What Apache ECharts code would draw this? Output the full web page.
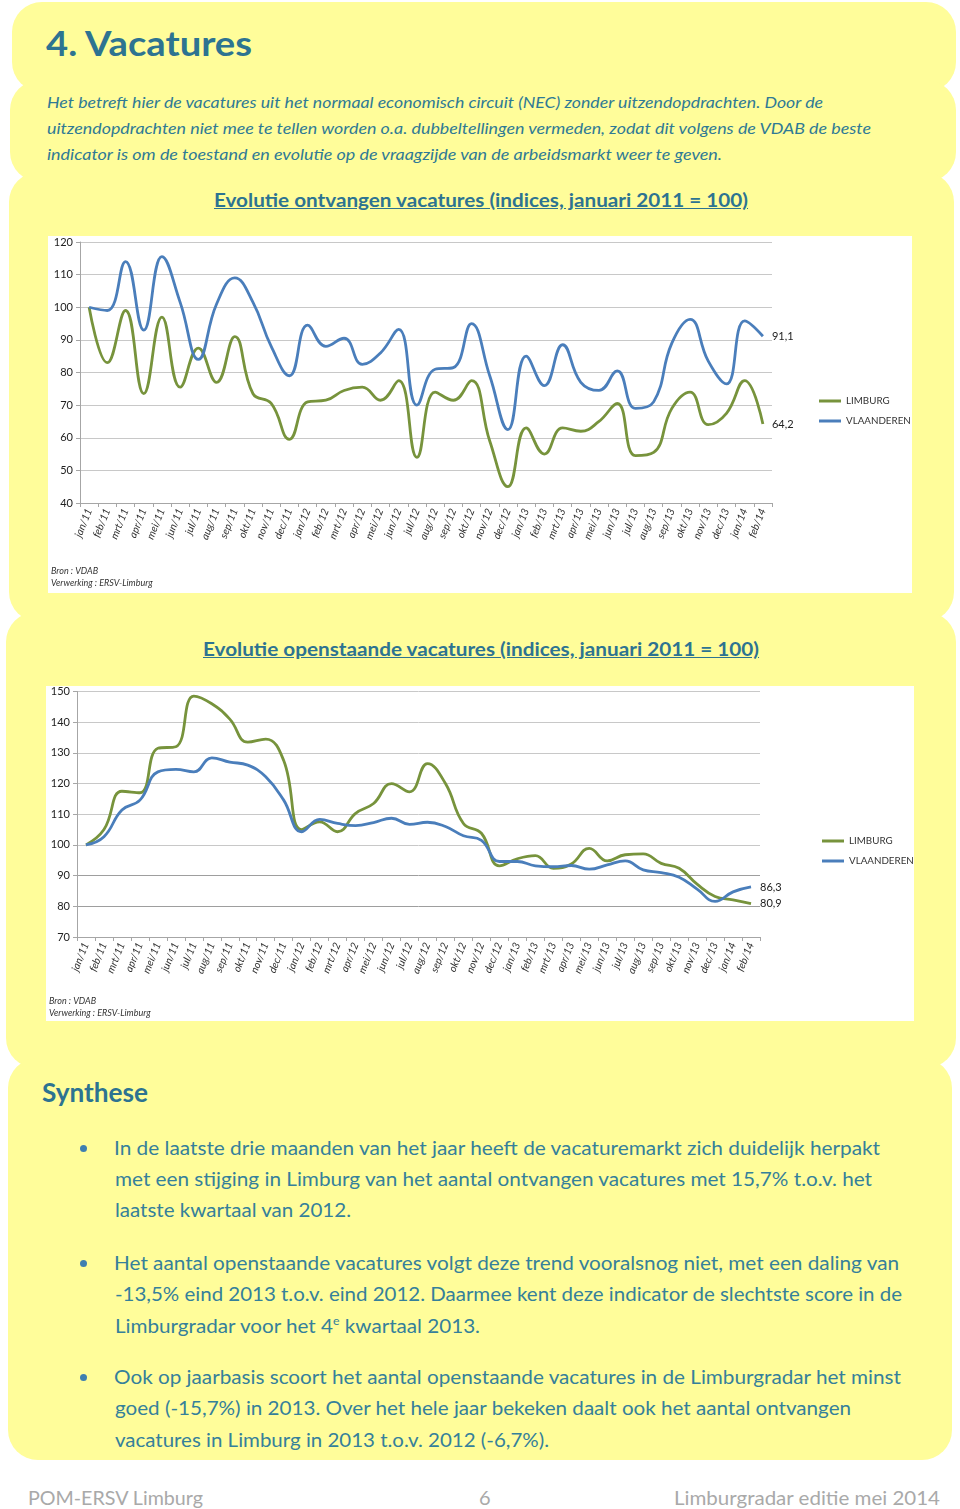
<!DOCTYPE html>
<html>
<head>
<meta charset="utf-8">
<script src="https://cdn.jsdelivr.net/npm/echarts/dist/echarts.min.js"></script>
<style>
  html, body { margin:0; padding:0; background:#fff; }
  body { width:960px; height:1509px; position:relative; overflow:hidden; font-family: Lato, "Open Sans", sans-serif; }
  .box { position:absolute; background:#FFFD9A; border-radius:30px; }
  .t { position:absolute; white-space:nowrap; transform-origin:0 50%; }
  .head { color:#2D7391; font-weight:bold; }
  .intro { color:#2F7A95; font-style:italic; font-size:15.5px; line-height:20px; }
  .ctitle { color:#2D7391; font-weight:bold; font-size:19px; line-height:24px; text-decoration:underline; }
  .body { color:#35809A; font-size:19.5px; line-height:26px; }
  .bul { position:absolute; width:7px; height:7px; border-radius:50%; background:#3E7FB0; }
  .foot { color:#A9A9A9; font-size:20px; line-height:26px; }
  .chart { position:absolute; background:#fff; }
  sup { font-size:60%; line-height:0; vertical-align: 0.7em; }
</style>
</head>
<body>
<div class="box" style="left:12px;top:2px;width:944px;height:90px;"></div>
<div class="box" style="left:10px;top:80px;width:946px;height:102px;"></div>
<div class="box" style="left:9px;top:172px;width:945px;height:450px;"></div>
<div class="box" style="left:6px;top:612px;width:950px;height:456px;"></div>
<div class="box" style="left:8px;top:1058px;width:944px;height:402px;"></div>

<div class="t head" style="left:46px;top:23px;font-size:34px;line-height:40px;" data-w="206">4. Vacatures</div>

<div class="t intro" style="left:47px;top:92px;" data-w="776">Het betreft hier de vacatures uit het normaal economisch circuit (NEC) zonder uitzendopdrachten. Door de</div>
<div class="t intro" style="left:47px;top:118px;" data-w="824">uitzendopdrachten niet mee te tellen worden o.a. dubbeltellingen vermeden, zodat dit volgens de VDAB de beste</div>
<div class="t intro" style="left:47px;top:144px;" data-w="675">indicator is om de toestand en evolutie op de vraagzijde van de arbeidsmarkt weer te geven.</div>

<div class="t ctitle" style="left:214px;top:188px;" data-w="534">Evolutie ontvangen vacatures (indices, januari 2011 = 100)</div>
<div id="c1" class="chart" style="left:48px;top:236px;width:864px;height:357px;"></div>

<div class="t ctitle" style="left:203px;top:637px;" data-w="556">Evolutie openstaande vacatures (indices, januari 2011 = 100)</div>
<div id="c2" class="chart" style="left:46px;top:686px;width:868px;height:335px;"></div>

<div class="t head" style="left:42px;top:1076px;font-size:26px;line-height:32px;" data-w="106">Synthese</div>

<div class="bul" style="left:80px;top:1145px;"></div>
<div class="t body" style="left:114px;top:1135px;" data-w="766">In de laatste drie maanden van het jaar heeft de vacaturemarkt zich duidelijk herpakt</div>
<div class="t body" style="left:115px;top:1166px;" data-w="757">met een stijging in Limburg van het aantal ontvangen vacatures met 15,7% t.o.v. het</div>
<div class="t body" style="left:115px;top:1197px;" data-w="236">laatste kwartaal van 2012.</div>

<div class="bul" style="left:80px;top:1260px;"></div>
<div class="t body" style="left:114px;top:1250px;" data-w="785">Het aantal openstaande vacatures volgt deze trend vooralsnog niet, met een daling van</div>
<div class="t body" style="left:115px;top:1281px;" data-w="787">-13,5% eind 2013 t.o.v. eind 2012. Daarmee kent deze indicator de slechtste score in de</div>
<div class="t body" style="left:115px;top:1313px;" data-w="365">Limburgradar voor het 4<sup>e</sup> kwartaal 2013.</div>

<div class="bul" style="left:80px;top:1374px;"></div>
<div class="t body" style="left:114px;top:1364px;" data-w="787">Ook op jaarbasis scoort het aantal openstaande vacatures in de Limburgradar het minst</div>
<div class="t body" style="left:115px;top:1395px;" data-w="736">goed (-15,7%) in 2013. Over het hele jaar bekeken daalt ook het aantal ontvangen</div>
<div class="t body" style="left:115px;top:1427px;" data-w="434">vacatures in Limburg in 2013 t.o.v. 2012 (-6,7%).</div>

<div class="t foot" style="left:28px;top:1484px;" data-w="175">POM-ERSV Limburg</div>
<div class="t foot" style="left:479px;top:1484px;">6</div>
<div class="t foot" style="left:674px;top:1484px;" data-w="266">Limburgradar editie mei 2014</div>

<script>
// ---- data ----
const months = ['jan/11','feb/11','mrt/11','apr/11','mei/11','jun/11','jul/11','aug/11','sep/11','okt/11','nov/11','dec/11',
  'jan/12','feb/12','mrt/12','apr/12','mei/12','jun/12','jul/12','aug/12','sep/12','okt/12','nov/12','dec/12',
  'jan/13','feb/13','mrt/13','apr/13','mei/13','jun/13','jul/13','aug/13','sep/13','okt/13','nov/13','dec/13',
  'jan/14','feb/14'];

const limburgOntvangen = [100, 83, 99, 73.5, 97, 75.5, 87.5, 77, 91, 73.5, 70.5, 59.5,
  71, 71.5, 74.5, 75.5, 71.5, 77.5, 54, 74, 71.5, 77.5, 59, 45,
  63, 55, 63, 62, 65, 70.5, 54.5, 55.5, 69, 74, 64, 67.5,
  77.5, 64.2];
const vlaanderenOntvangen = [100, 99, 114, 93, 115.5, 101.5, 84, 101, 109, 101.5, 88, 79,
  94.5, 88, 90.5, 82.5, 86, 93.2, 70, 81, 81.5, 95, 79, 62.5,
  85, 76, 88.5, 77, 74.5, 80.5, 69, 71, 89, 96.3, 83.5, 76.5,
  95.8, 91.1];

const limburgOpenstaande = [100, 105, 117.5, 117, 131.5, 132, 148.5, 146, 141, 133.5, 134.5, 127.5,
  105, 107.5, 104.3, 110.3, 113.5, 120, 117.3, 126.5, 120, 107, 103.8, 93.2,
  95.5, 96.5, 92.4, 93.8, 98.9, 94.8, 96.8, 97.1, 94, 92.4, 87.2, 83.2,
  82.1, 80.9];
const vlaanderenOpenstaande = [100, 102.7, 111.4, 114.6, 123.8, 124.6, 123.8, 128.4, 127, 126, 122.2, 114.6,
  104.3, 108.3, 107, 106.3, 107.3, 108.7, 106.7, 107.4, 106, 103, 101.5, 94.6,
  94.6, 93.2, 92.9, 93.3, 92.1, 93.5, 94.8, 91.9, 91, 89.5, 85.6, 81.6,
  84.7, 86.3];

const seriesNames = ['LIMBURG', 'VLAANDEREN'];
const axis1 = { min: 40, max: 120, interval: 10 };
const axis2 = { min: 70, max: 150, interval: 10 };
const sourceLines = ['Bron : VDAB', 'Verwerking : ERSV-Limburg'];

// ---- fit text widths ----
document.querySelectorAll('[data-w]').forEach(el => {
  const w = el.getBoundingClientRect().width;
  const target = parseFloat(el.dataset.w);
  if (w > 0) el.style.transform = 'scaleX(' + (target / w).toFixed(4) + ')';
});

const FONT = 'Lato, "Open Sans", sans-serif';
const GREEN = '#77933C', BLUE = '#4A7EBB';

function makeOption(cfg) {
  const fmt = p => String(p.value).replace('.', ',');
  return {
    animation: false,
    grid: cfg.grid,
    legend: {
      orient: 'vertical', left: cfg.legendLeft, top: cfg.legendTop,
      icon: 'rect', itemWidth: 22, itemHeight: 3, itemGap: 10,
      textStyle: { fontSize: 9.8, color: '#333', fontFamily: FONT },
      data: seriesNames
    },
    xAxis: {
      type: 'category', data: months, boundaryGap: true,
      axisLine: { lineStyle: { color: '#A6A6A6', width: 1 } },
      axisTick: { show: true, length: 4, interval: 0, lineStyle: { color: '#A6A6A6' } },
      axisLabel: { interval: 0, rotate: 68, fontSize: 10.5, fontStyle: 'italic', color: '#333', fontFamily: FONT, margin: 6 },
      splitLine: { show: false }
    },
    yAxis: {
      type: 'value', min: cfg.axis.min, max: cfg.axis.max, interval: cfg.axis.interval,
      axisLine: { show: true, lineStyle: { color: '#A6A6A6' } },
      axisTick: { show: true, length: 4, lineStyle: { color: '#A6A6A6' } },
      axisLabel: { fontSize: 11, color: '#222', fontFamily: FONT, margin: 7 },
      splitLine: { show: true, lineStyle: { color: cfg.splitColors, width: 1 } }
    },
    graphic: sourceLines.map((s, i) => ({
      type: 'text', left: 3, top: cfg.sourceTop + i * 12,
      style: { text: s, fontSize: 9, fontStyle: 'italic', fill: '#333', fontFamily: FONT }
    })),
    series: [
      { name: seriesNames[0], type: 'line', data: cfg.green, smooth: 0.45, symbol: 'none',
        lineStyle: { color: GREEN, width: 2.8 }, itemStyle: { color: GREEN },
        endLabel: { show: true, formatter: fmt, color: '#222', fontSize: 11, fontFamily: FONT, distance: 9 } },
      { name: seriesNames[1], type: 'line', data: cfg.blue, smooth: 0.45, symbol: 'none',
        lineStyle: { color: BLUE, width: 2.8 }, itemStyle: { color: BLUE },
        endLabel: { show: true, formatter: fmt, color: '#222', fontSize: 11, fontFamily: FONT, distance: 9 } }
    ]
  };
}

const c1 = echarts.init(document.getElementById('c1'), null, { renderer: 'canvas' });
c1.setOption(makeOption({
  grid: { left: 32, top: 6, width: 692, height: 261 },
  legendLeft: 766, legendTop: 155, axis: axis1,
  splitColors: ['#C8C8C8'],
  sourceTop: 331,
  green: limburgOntvangen, blue: vlaanderenOntvangen
}));

const c2 = echarts.init(document.getElementById('c2'), null, { renderer: 'canvas' });
c2.setOption(makeOption({
  grid: { left: 31, top: 5, width: 683, height: 246 },
  legendLeft: 771, legendTop: 145, axis: axis2,
  splitColors: ['#A6A6A6', '#9E9E9E', '#9E9E9E', '#C8C8C8', '#C8C8C8', '#C8C8C8', '#C8C8C8', '#C8C8C8', '#C8C8C8'],
  sourceTop: 311,
  green: limburgOpenstaande, blue: vlaanderenOpenstaande
}));
</script>
</body>
</html>
